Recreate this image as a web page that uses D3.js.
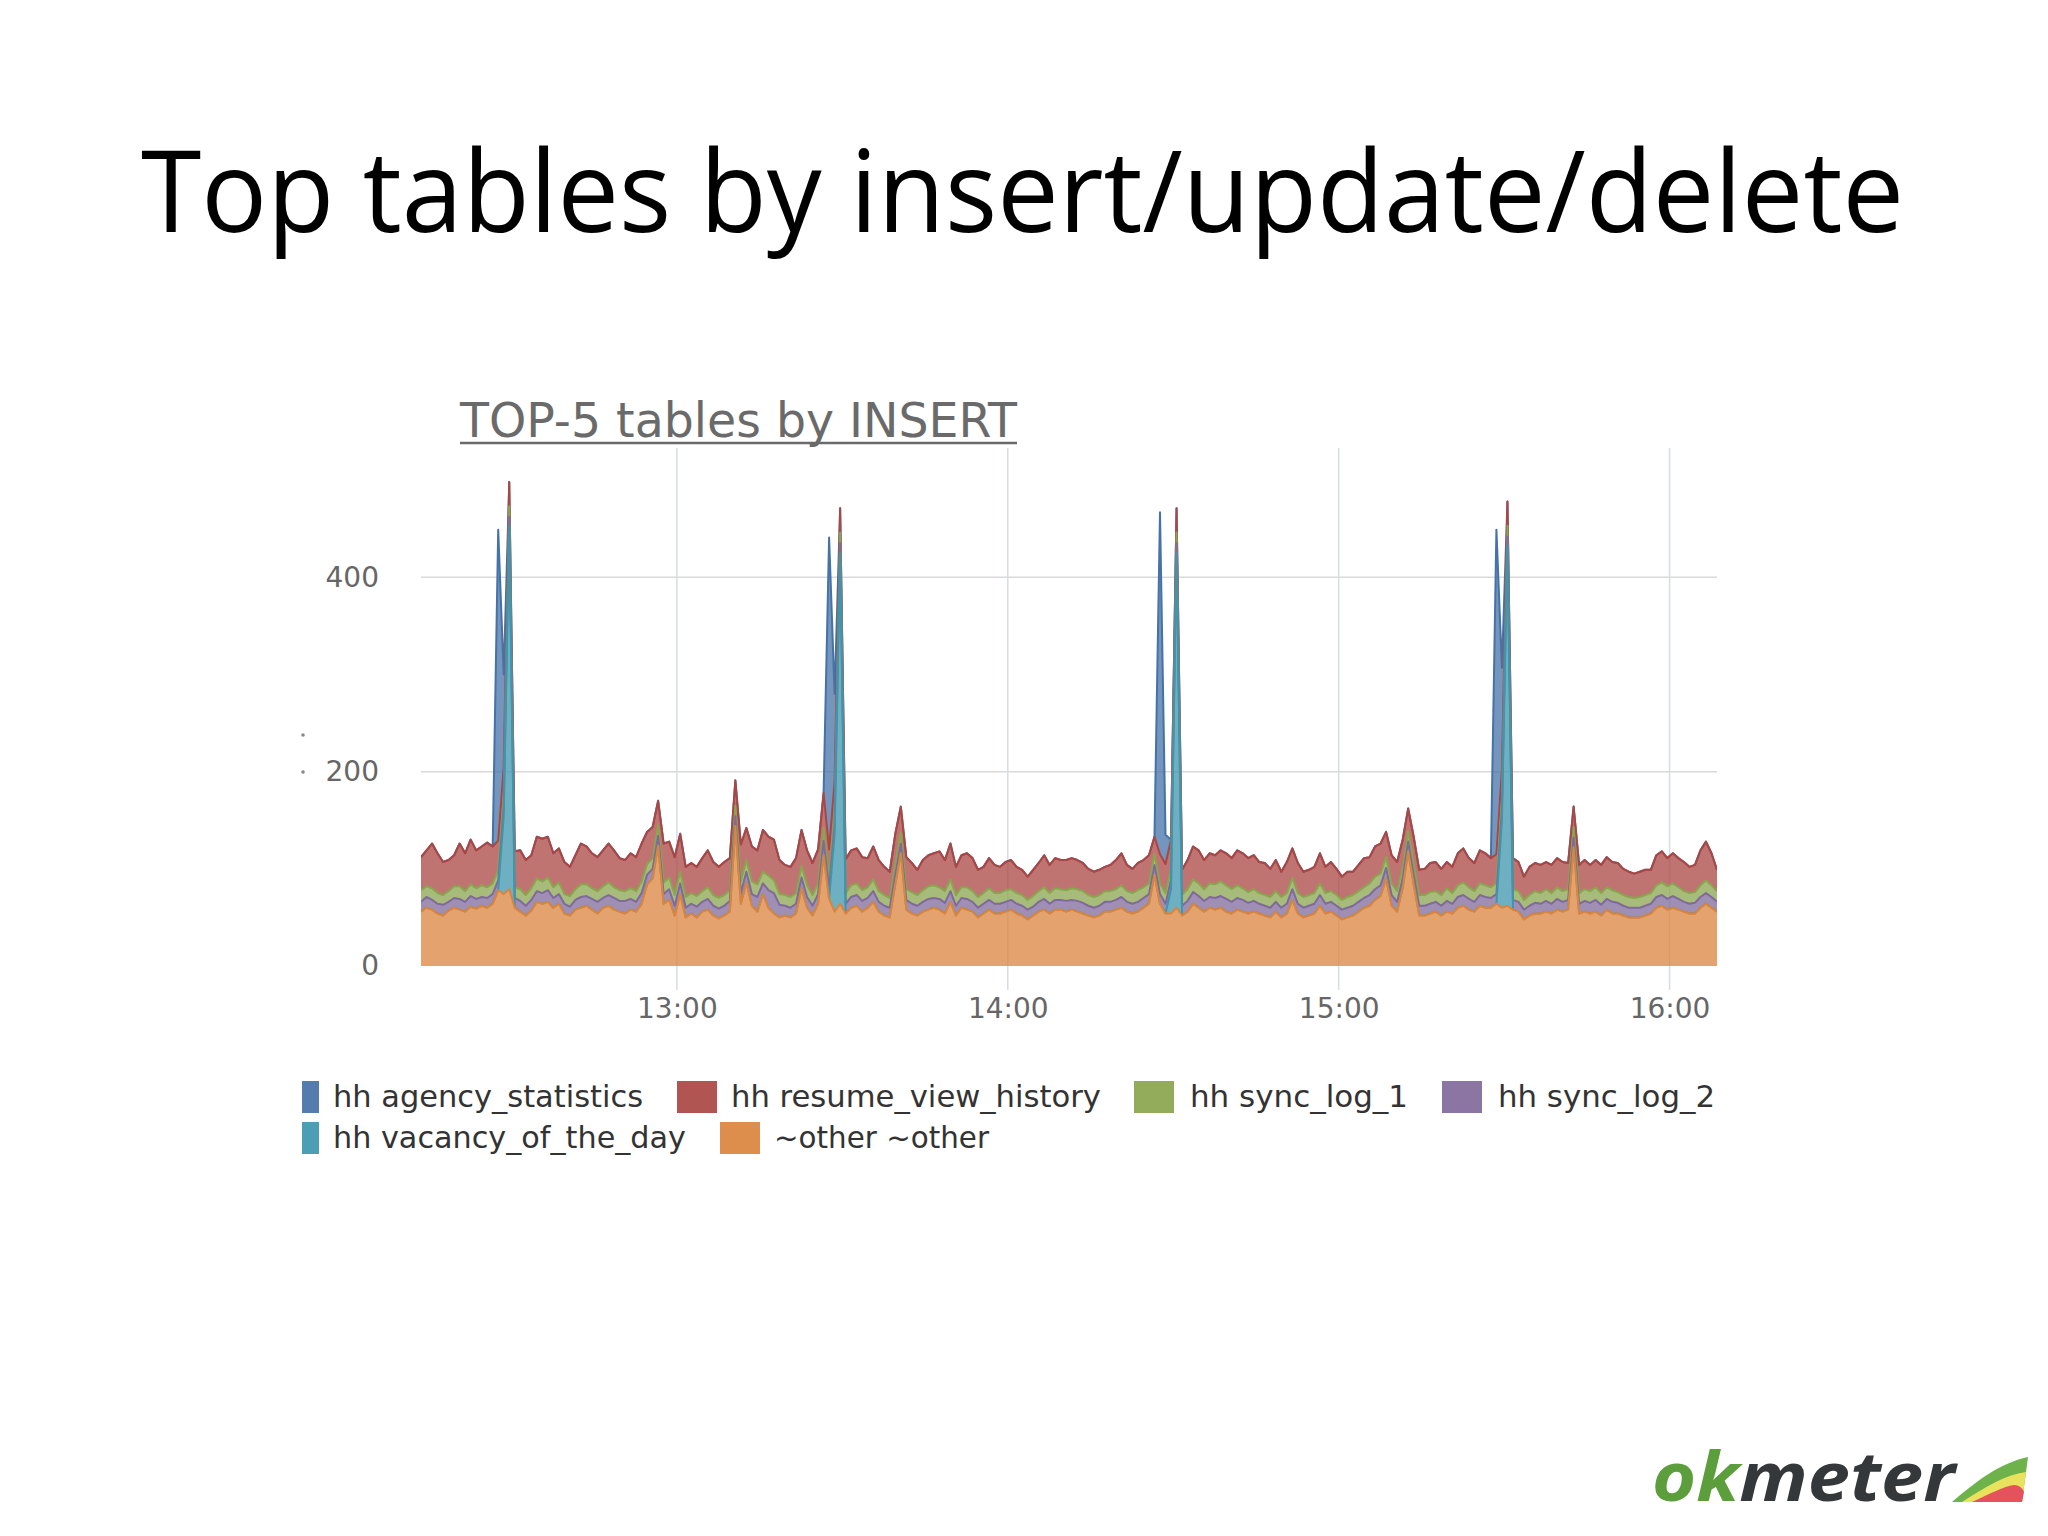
<!DOCTYPE html>
<html><head><meta charset="utf-8">
<script src="https://cdn.jsdelivr.net/npm/d3@7"></script>
<style>html,body{margin:0;background:#fff;} svg{display:block;}</style>
</head><body>
<svg id="c" width="2048" height="1536"></svg>
<script>
// ---------- DATA (one value per minute, starting 12:13:36) ----------
const seriesNames = ["hh agency_statistics","hh resume_view_history","hh sync_log_1","hh sync_log_2","hh vacancy_of_the_day","~other ~other"];
const startTime = "12:13:36";
const xTickLabels = ["13:00","14:00","15:00","16:00"];
const yTickValues = [0,200,400];

const other = [
56,60,58,54,52,57,60,58,56,61, 59,62,60,64,78,74,79,60,56,52,
57,66,64,66,60,64,54,52,58,60, 62,58,54,60,62,58,56,54,58,56,
64,84,90,124,64,68,52,74,50,54, 50,56,58,52,49,52,56,144,64,86,
62,56,74,60,54,50,52,50,54,80, 60,52,64,114,69,56,64,54,60,62,
56,60,66,56,52,50,84,116,58,54, 52,56,58,60,58,54,66,52,60,58,
56,50,54,58,54,54,56,58,54,52, 48,52,56,58,54,58,58,56,58,56,
54,52,50,52,56,56,58,60,56,54, 56,60,64,94,64,54,54,60,52,56,
64,60,56,60,58,60,56,54,58,56, 54,56,54,52,50,56,50,54,68,54,
50,52,54,62,54,56,52,48,50,52, 56,60,62,68,72,90,62,56,80,118,
84,52,52,54,56,52,56,54,60,62, 58,56,62,60,60,64,60,62,58,56,
48,52,54,54,56,54,58,56,58,122, 54,56,54,56,52,58,54,54,52,50,
50,50,52,54,60,62,58,60,58,56, 54,54,60,64,60,56];

const syncLog1 = [
12,11,12,11,10,11,12,13,11,12, 11,12,11,11,11,11,11,11,12,11,
12,13,12,13,11,12,10,11,11,13, 12,11,11,12,13,11,11,10,11,11,
12,11,11,11,12,12,11,12,11,11, 11,11,12,11,11,11,11,11,12,12,
13,13,12,15,13,11,11,11,11,12, 12,11,11,13,11,11,11,11,12,12,
11,11,12,11,11,10,11,11,11,12, 11,12,13,13,12,12,12,11,11,12,
11,11,11,12,11,11,12,11,11,11, 10,11,11,12,11,12,11,11,12,12,
12,11,11,11,11,11,11,12,11,11, 12,11,11,11,11,11,11,11,11,12,
13,13,12,14,14,15,14,13,13,12, 11,12,11,11,11,11,11,11,12,11,
11,11,11,12,11,11,11,10,11,11, 11,11,12,13,12,11,12,11,11,11,
11,11,11,12,11,11,13,11,12,13, 12,11,12,12,11,11,11,11,11,11,
10,11,12,11,12,11,12,11,11,11, 11,12,12,13,12,12,12,11,11,11,
10,11,11,11,12,13,13,13,12,11, 11,11,12,13,12,11];

const syncLog2 = [
10,11,10,10,11,9,10,11,10,11, 10,9,10,10,10,10,9,10,11,10,
11,11,11,12,10,10,10,9,10,11, 10,11,12,10,11,12,11,13,11,10,
11,10,10,10,10,11,10,11,10,10, 11,10,11,10,10,10,11,10,11,11,
12,15,11,18,21,13,10,10,10,11, 11,10,10,15,10,10,10,10,11,11,
11,10,11,10,10,10,10,10,10,10, 10,10,11,10,11,11,11,10,10,11,
10,10,10,10,10,10,10,10,10,10, 10,9,10,11,10,10,10,11,10,11,
11,10,10,10,10,10,10,11,10,10, 10,10,10,10,10,10,10,10,10,11,
12,12,11,11,12,12,13,12,12,12, 11,11,10,10,10,10,10,10,11,10,
10,10,10,11,10,10,10,10,10,10, 10,10,11,11,11,11,11,10,10,10,
10,10,10,10,10,10,11,10,11,11, 11,10,11,11,10,10,10,10,10,10,
10,10,11,10,11,10,11,10,10,10, 10,11,11,12,11,11,12,11,10,10,
10,10,10,10,11,11,11,12,11,10, 10,11,11,11,11,10];

const resumeViewHistory = [
34,37,46,41,34,32,32,44,39,46, 39,40,46,38,30,30,25,37,40,36,
34,43,44,42,35,35,33,30,35,42, 39,36,35,37,40,38,33,32,36,35,
39,33,32,25,40,37,39,39,31,31, 30,34,38,34,32,34,33,26,38,33,
36,35,43,40,42,35,31,31,36,37, 36,33,35,36,30,33,25,35,36,36,
34,30,34,32,29,27,31,27,33,30, 26,31,32,33,37,32,37,29,33,35,
34,28,27,31,29,27,29,30,27,26, 24,27,29,33,29,31,30,31,31,30,
29,27,26,26,25,27,30,33,27,25, 28,28,29,18,30,30,30,25,26,30,
34,34,30,31,30,32,33,32,36,36, 35,35,32,33,29,32,26,32,30,31,
26,26,27,31,27,30,27,24,26,24, 27,30,27,31,31,26,29,30,29,23,
28,26,27,30,30,27,27,27,33,35, 30,29,34,33,30,30,31,25,32,30,
24,29,29,29,28,29,30,30,27,21, 29,30,27,28,29,31,29,30,27,26,
25,26,26,24,31,32,29,31,30,30, 27,28,36,40,33,22];

// hourly spikes: [minute index, value]; zero elsewhere
const agencySpikes  = [[14,320],[15,95],[74,321],[75,90],[134,352],[135,30],[195,334],[196,105]];
const vacancySpikes = [[15,80],[16,374],[75,80],[76,361],[136,25],[137,365],[196,90],[197,370]];

// ---------- BUILD ----------
const colors = ["#4572A7","#AA4643","#89A54E","#80699B","#3D96AE","#DB843D"];
const n = other.length;
const agency = new Array(n).fill(0); agencySpikes.forEach(([i,v]) => agency[i] = v);
const vacancy = new Array(n).fill(0); vacancySpikes.forEach(([i,v]) => vacancy[i] = v);
const seriesValues = [agency, resumeViewHistory, syncLog1, syncLog2, vacancy, other];

const [h0,m0,s0] = startTime.split(":").map(Number);
const t0 = new Date(2000,0,1,h0,m0,s0).getTime();
const rows = d3.range(n).map(i => {
  const r = {t: new Date(t0 + i*60000)};
  seriesNames.forEach((nm,j) => r[nm] = seriesValues[j][i]);
  return r;
});

const svg = d3.select("#c");
const W = 2048, H = 1536;
svg.append("rect").attr("width",W).attr("height",H).attr("fill","#fff");

// slide title
svg.append("text").attr("x",141).attr("y",232)
  .attr("textLength",1763).attr("lengthAdjust","spacingAndGlyphs")
  .style("font-family","'Open Sans', 'Noto Sans', sans-serif").style("font-size","114px").attr("fill","#000")
  .text("Top tables by insert/update/delete");

// chart title
svg.append("text").attr("x",460).attr("y",437)
  .attr("textLength",557).attr("lengthAdjust","spacingAndGlyphs")
  .style("font-family","'DejaVu Sans', sans-serif").style("font-size","48px").attr("fill","#6a6a6a")
  .text("TOP-5 tables by INSERT");
svg.append("line").attr("x1",460).attr("x2",1017).attr("y1",443).attr("y2",443)
  .attr("stroke","#6a6a6a").attr("stroke-width",2.5);

const plot = {left:421, right:1717, top:448, bottom:966};
const x = d3.scaleTime().domain([rows[0].t, rows[n-1].t]).range([plot.left, plot.right]);
const y = d3.scaleLinear().domain([0,533]).range([plot.bottom, plot.top]);

const tickDates = xTickLabels.map(s => { const [h,m] = s.split(":").map(Number); return new Date(2000,0,1,h,m,0); });

// grid
svg.append("g").selectAll("line").data(yTickValues.filter(v=>v>0)).join("line")
  .attr("x1",plot.left).attr("x2",plot.right).attr("y1",d=>y(d)).attr("y2",d=>y(d))
  .attr("stroke","#d9d9d9").attr("stroke-width",1.5);
svg.append("g").selectAll("line").data(tickDates).join("line")
  .attr("x1",d=>x(d)).attr("x2",d=>x(d)).attr("y1",plot.top).attr("y2",plot.bottom+24)
  .attr("stroke","#d6dde5").attr("stroke-width",1.5);

// stacked areas (bottom: other ... top: agency)
const keysBottomUp = seriesNames.slice().reverse();
const stack = d3.stack().keys(keysBottomUp)(rows);
const area = d3.area().x(d=>x(d.data.t)).y0(d=>y(d[0])).y1(d=>y(d[1]));
const line = d3.line().x(d=>x(d.data.t)).y(d=>y(d[1]));
svg.append("clipPath").attr("id","pc").append("rect")
  .attr("x",plot.left).attr("y",plot.top-60).attr("width",plot.right-plot.left).attr("height",plot.bottom-plot.top+60);
const gArea = svg.append("g").attr("clip-path","url(#pc)");
seriesNames.forEach((nm,j) => {
  const layer = stack.find(s => s.key === nm);
  gArea.append("path").datum(layer).attr("d",area).attr("fill",colors[j]).attr("fill-opacity",0.75);
  gArea.append("path").datum(layer).attr("d",line).attr("fill","none").attr("stroke",colors[j])
    .attr("stroke-width",2).attr("stroke-linejoin","round");
});

// axes
const yAxis = svg.append("g").attr("transform",`translate(379,0)`)
  .call(d3.axisLeft(y).tickValues(yTickValues).tickSize(0).tickPadding(0));
yAxis.select(".domain").remove();
yAxis.selectAll("text").style("font-family","'DejaVu Sans', sans-serif").style("font-size","28px").attr("fill","#666");

const xAxis = svg.append("g").attr("transform",`translate(0,${plot.bottom})`)
  .call(d3.axisBottom(x).tickValues(tickDates).tickFormat(d3.timeFormat("%H:%M")).tickSize(0));
xAxis.select(".domain").remove();
xAxis.selectAll("text").attr("y",42).attr("dy","0.35em")
  .style("font-family","'DejaVu Sans', sans-serif").style("font-size","28px").attr("fill","#666");

// stray marks left of the axis
svg.append("g").selectAll("circle").data([735,772]).join("circle")
  .attr("cx",303).attr("cy",d=>d).attr("r",1.8).attr("fill","#888");

// legend
const legendLayout = [
  {sx:279, ty:1097, tx:333, tw:310},
  {sx:677, ty:1097, tx:731, tw:370},
  {sx:1134, ty:1097, tx:1190, tw:218},
  {sx:1442, ty:1097, tx:1498, tw:217},
  {sx:279, ty:1138, tx:333, tw:353},
  {sx:720, ty:1138, tx:774, tw:215}
];
svg.append("clipPath").attr("id","lc").append("rect").attr("x",302).attr("y",1000).attr("width",1600).attr("height",200);
const lg = svg.append("g").attr("clip-path","url(#lc)");
seriesNames.forEach((nm,j) => {
  const L = legendLayout[j];
  lg.append("rect").attr("x",L.sx).attr("y",L.ty-16).attr("width",40).attr("height",32).attr("fill",colors[j]).attr("fill-opacity",0.92);
  lg.append("text").attr("x",L.tx).attr("y",L.ty+10).attr("textLength",L.tw).attr("lengthAdjust","spacingAndGlyphs")
    .style("font-family","'DejaVu Sans', sans-serif").style("font-size","30px").attr("fill","#333").text(nm);
});

// okmeter logo
const logo = svg.append("text").attr("x",1652).attr("y",1501).attr("textLength",303).attr("lengthAdjust","spacingAndGlyphs")
  .style("font-family","'Open Sans', sans-serif").style("font-size","68px").style("font-weight","bold").style("font-style","italic");
logo.append("tspan").attr("fill","#5c9d3c").text("ok");
logo.append("tspan").attr("fill","#34383b").text("meter");
svg.append("path").attr("d","M1952,1502 C1975,1482 2000,1463 2028,1457 L2022,1502 Z").attr("fill","#6db24a");
svg.append("path").attr("d","M1962,1502 C1985,1487 2005,1475 2026,1472 L2022,1502 Z").attr("fill","#e9e25c");
svg.append("path").attr("d","M1972,1502 C1990,1494 2004,1486 2014,1485 C2020,1485 2023,1489 2024,1492 L2022,1502 Z").attr("fill","#e4525e");
</script>
</body></html>
